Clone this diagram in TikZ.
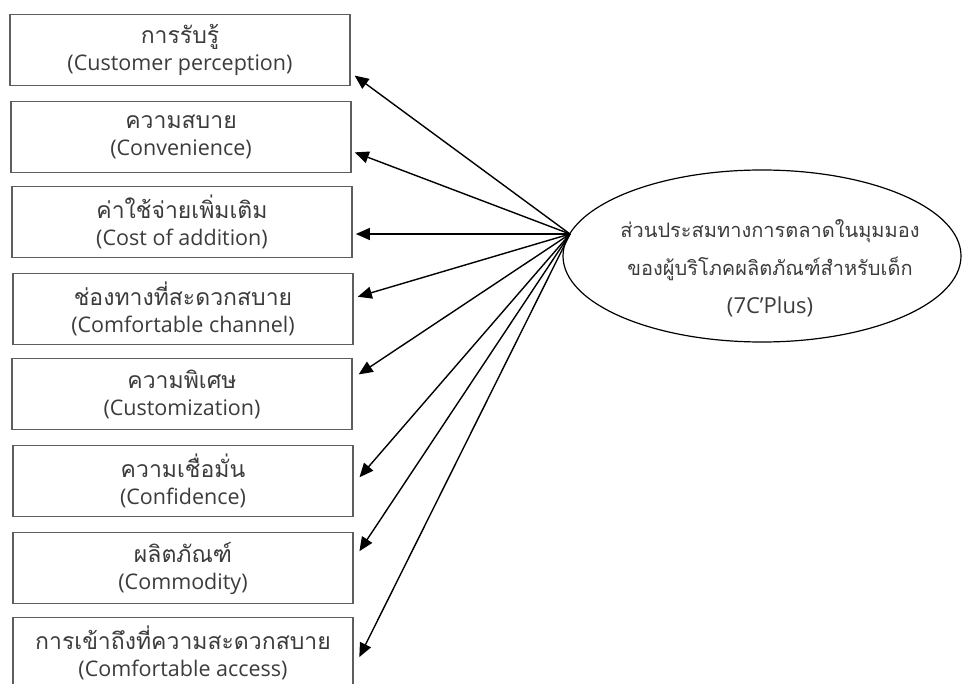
\documentclass[tikz,border=0pt]{standalone}
\usepackage{fontspec}
\setmainfont{Open Sans}
\newfontfamily\thaifont[Script=Thai]{Loma}
\usetikzlibrary{shapes.geometric,arrows.meta}
\definecolor{txt}{HTML}{3C3C3C}
\definecolor{frame}{HTML}{5E5E5E}
% two-line label: Thai name over the English term
\newcommand\duo[2]{{\thaifont\fontsize{23}{26}\selectfont #1}\\#2}
\begin{document}
\begin{tikzpicture}[x=1pt,y=-1pt,
  factor/.style={draw=frame,line width=1.7pt,rectangle,minimum width=340pt,
    minimum height=71pt,inner sep=0pt,align=center,text=txt,
    font=\fontsize{21.5}{27}\selectfont},
  construct/.style={draw=black,line width=1.2pt,ellipse,minimum width=398pt,
    minimum height=172pt,inner sep=0pt},
  caption/.style={align=center,text=txt,inner sep=0pt,
    font=\fontsize{20}{38}\selectfont},
  link/.style={line width=1.4pt,-{Triangle[length=14pt,width=12pt]},shorten >=1pt}]
\path[use as bounding box,clip] (0,0) rectangle (963,684);
\fill[white] (0,0) rectangle (963,684);

% first-order dimensions of the 7C'Plus model
\node[factor] (b1) at (180,50)  {\duo{การรับรู้}{(Customer perception)}};
\node[factor] (b2) at (181,137) {\duo{ความสบาย}{(Convenience)}};
\node[factor] (b3) at (182,222) {\duo{ค่าใช้จ่ายเพิ่มเติม}{(Cost of addition)}};
\node[factor] (b4) at (183,309) {\duo{ช่องทางที่สะดวกสบาย}{(Comfortable channel)}};
\node[factor] (b5) at (182,394) {\duo{ความพิเศษ}{(Customization)}};
\node[factor] (b6) at (183,481) {\duo{ความเชื่อมั่น}{(Confidence)}};
\node[factor] (b7) at (183,568) {\duo{ผลิตภัณฑ์}{(Commodity)}};
\node[factor] (b8) at (183,653) {\duo{การเข้าถึงที่ความสะดวกสบาย}{(Comfortable access)}};

% the latent construct and its caption
\node[construct] (E) at (762,256) {};
\node[caption] (Etext) at ([xshift=8pt,yshift=-12pt]E.center)
  {{\thaifont ส่วนประสมทางการตลาดในมุมมอง}\\
   {\thaifont ของผู้บริโภคผลิตภัณฑ์สำหรับเด็ก}\\
   {\fontsize{22}{38}\selectfont (7C’Plus)}};
\coordinate (hub) at (570,234);

\draw[link] (hub) -- ([xshift=3pt,yshift=-25pt]b1.east);
\draw[link] (hub) -- ([xshift=2pt,yshift=-15pt]b2.east);
\draw[link] (hub) -- ([xshift=2pt,yshift=-12pt]b3.east);
\draw[link] (hub) -- ([xshift=3pt,yshift=12pt]b4.east);
\draw[link] (hub) -- ([xshift=5pt,yshift=19pt]b5.east);
\draw[link] (hub) -- ([xshift=5pt,yshift=3pt]b6.east);
\draw[link] (hub) -- ([xshift=5pt,yshift=16pt]b7.east);
\draw[link] (hub) -- ([xshift=5pt,yshift=-5pt]b8.east);
\end{tikzpicture}
\end{document}
